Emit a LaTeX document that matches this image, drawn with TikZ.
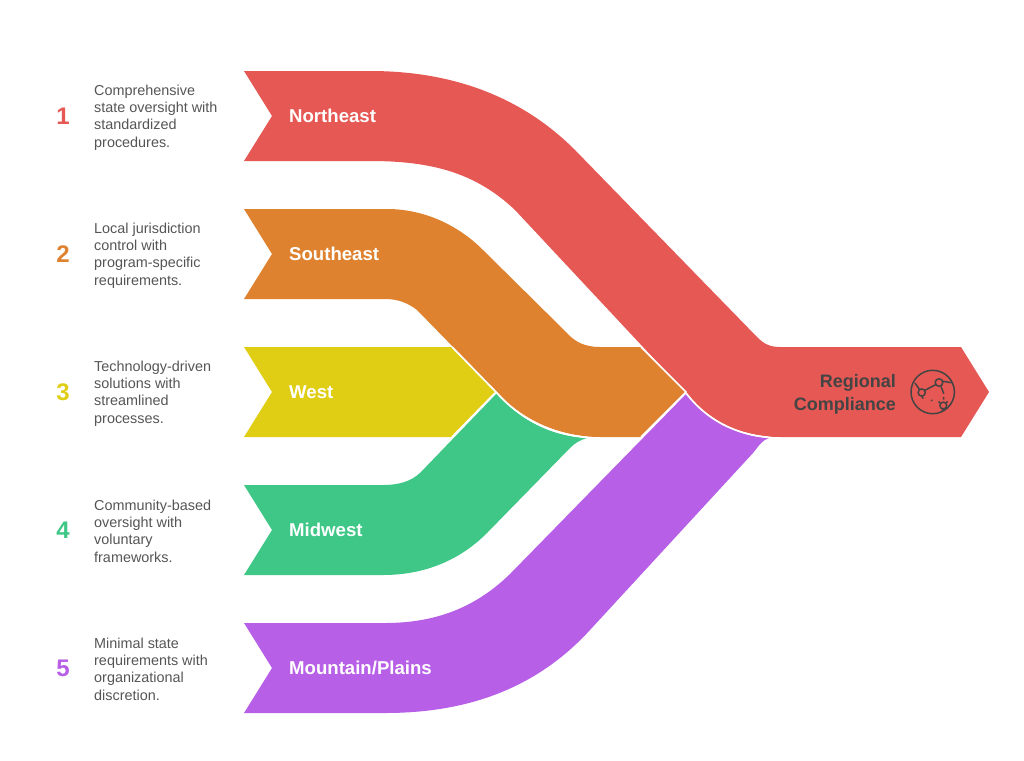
\documentclass[tikz,border=0pt]{standalone}
\usepackage{fontspec}
\setmainfont{Liberation Sans}
\definecolor{cred}{HTML}{E55854}
\definecolor{corange}{HTML}{DE822F}
\definecolor{cyellow}{HTML}{E0CE15}
\definecolor{cgreen}{HTML}{3EC786}
\definecolor{cpurple}{HTML}{B75FE6}
\definecolor{ctext}{HTML}{555555}
\definecolor{cdark}{HTML}{444444}
\tikzset{
  desc/.style={anchor=west,align=left,text=ctext,inner sep=0pt,font=\fontsize{14.4}{17.33}\selectfont},
  num/.style={anchor=center,inner sep=0pt,font=\fontsize{24}{24}\selectfont\bfseries},
  lab/.style={anchor=west,inner sep=0pt,text=white,font=\fontsize{18.6}{22}\selectfont\bfseries},
  seam/.style={draw=white,line width=1.7pt},
  ico/.style={draw=cdark,line width=1.5pt,fill=none}
}
\begin{document}
\begin{tikzpicture}[x=1pt,y=-1pt]
\useasboundingbox (0,0) rectangle (1024,760);
% ribbons
\fill[cyellow] (244,347) -- (452,347) -- (496,392) -- (452,437) -- (244,437) -- (272,392) -- cycle;
\fill[cgreen] (244,485) -- (383,485) .. controls (398,485) and (410,482) .. (420,473) -- (497,393)
  .. controls (520,420) and (550,436) .. (587,438) .. controls (580,440) and (575,443) .. (570,448)
  -- (487,533) .. controls (460,560) and (425,575) .. (383,575) -- (244,575) -- (272,530) -- cycle;
\fill[corange] (244,209) -- (387,209) .. controls (420,209) and (455,222) .. (483,250) -- (567,333)
  .. controls (575,342) and (585,347) .. (600,347) -- (641,347) -- (686,392) -- (641,437) -- (600,437)
  .. controls (560,437) and (522,420) .. (497,392) -- (417,310) .. controls (408,303) and (398,299) .. (385,299)
  -- (244,299) -- (272,254) -- cycle;
\fill[cpurple] (244,623) -- (385,623) .. controls (435,623) and (475,608) .. (510,574) -- (687,393)
  .. controls (708,420) and (735,436) .. (769,438) .. controls (762,440) and (758,447) .. (753,453)
  -- (590,630) .. controls (535,690) and (465,713) .. (385,713) -- (244,713) -- (272,668) -- cycle;
\fill[cred] (244,71) -- (370,71) .. controls (450,71) and (520,95) .. (575,150) -- (757,337)
  .. controls (764,344) and (770,347) .. (780,347) -- (961,347) -- (989,392) -- (961,437) -- (780,437)
  .. controls (742,437) and (710,422) .. (686,393) -- (515,210) .. controls (475,172) and (430,161) .. (370,161)
  -- (244,161) -- (272,116) -- cycle;
% white seams
\draw[seam] (452,347) -- (496,392) -- (452,437);
\draw[seam] (641,347) -- (686,392) -- (641,437);
\draw[seam] (496,392) .. controls (518,417) and (548,434) .. (587,437.4);
\draw[seam] (686,393) .. controls (706,419) and (733,434) .. (769,437.4);
% descriptions
\node[num,text=cred] (n1) at (63,116) {1};
\node[num,text=corange] (n2) at (63,254) {2};
\node[num,text=cyellow] (n3) at (63,392) {3};
\node[num,text=cgreen] (n4) at (63,530) {4};
\node[num,text=cpurple] (n5) at (63,668) {5};
\node[desc] (d1) at (94,117.3) {Comprehensive\\state oversight with\\standardized\\procedures.};
\node[desc] (d2) at (94,255.3) {Local jurisdiction\\control with\\program-specific\\requirements.};
\node[desc] (d3) at (94,393.3) {Technology-driven\\solutions with\\streamlined\\processes.};
\node[desc] (d4) at (94,531) {Community-based\\oversight with\\voluntary\\frameworks.};
\node[desc] (d5) at (94,669) {Minimal state\\requirements with\\organizational\\discretion.};
% labels
\node[lab] (l1) at (289,116) {Northeast};
\node[lab] (l2) at (289,254) {Southeast};
\node[lab] (l3) at (289,392) {West};
\node[lab] (l4) at (289,530) {Midwest};
\node[lab] (l5) at (289,668) {Mountain/Plains};
\node[anchor=east,align=right,inner sep=0pt,text=cdark,font=\fontsize{18}{23}\selectfont\bfseries] (rc) at (896,394.4) {Regional\\Compliance};
% icon
\draw[ico] (932.7,392) circle (21.7);
\draw[ico] (921.7,392.5) circle (3.6);
\draw[ico] (939,382.5) circle (3.8);
\draw[ico] (943.3,405.5) circle (3.4);
\draw[ico] (915,383) -- (919.5,389.5);
\draw[ico] (925,390.3) -- (935.5,384.7);
\draw[ico] (942.7,381.3) -- (951.7,382.7);
\draw[ico] (941,386.5) -- (943.8,393.7);
\draw[ico] (921.7,396.2) -- (923.3,398.5);
\draw[ico] (943.7,397) -- (943.5,399.5);
\draw[ico] (940,403) -- (938.5,401.5);
\draw[ico] (946,403) -- (947.5,401.5);
\draw[ico] (943,409) -- (942,411.5);
\fill[cdark] (931.7,400.3) circle (1);
\end{tikzpicture}
\end{document}
